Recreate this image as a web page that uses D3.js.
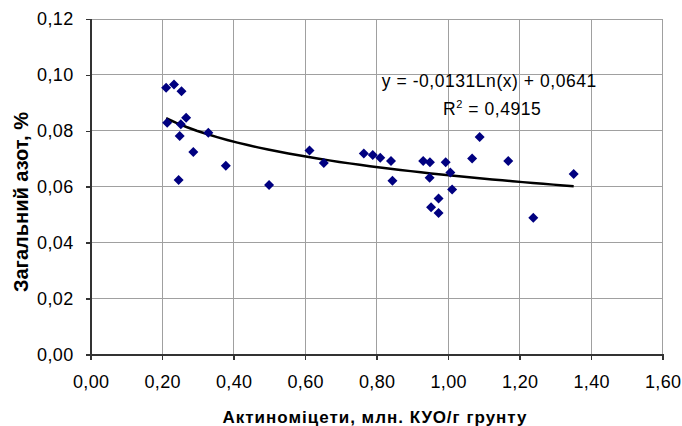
<!DOCTYPE html>
<meta charset="utf-8">
<title>Загальний азот vs Актиноміцети</title>
<style>
  body { margin: 0; background: #fff; }
  svg { font-family: "Liberation Sans", Arial, sans-serif; }
  .grid line { stroke: #a0a0a0; stroke-width: 1; shape-rendering: crispEdges; }
  .axis path, .axis line { stroke: #333; stroke-width: 1.5; shape-rendering: crispEdges; }
  .axis text { font-size: 18px; fill: #000; letter-spacing: 0.4px; }
  .xtitle { font-size: 17px; font-weight: bold; letter-spacing: 1px; }
  .ytitle { font-size: 20px; font-weight: bold; }
  .dot { fill: #000080; }
  .trend { fill: none; stroke: #000; stroke-width: 2.5; }
  .eq { font-size: 17.5px; letter-spacing: 0.55px; }
</style>
<body>
<script src="https://d3js.org/d3.v7.min.js"></script>
<script>
// Актиноміцети, млн. КУО/г грунту
var actino = [0.211, 0.233, 0.254, 0.214, 0.267, 0.252, 0.329, 0.249, 0.287, 0.378, 0.246,
              0.499, 0.612, 0.652, 0.764, 0.789, 0.810, 0.840, 0.844, 0.930, 0.949, 0.948,
              0.993, 1.006, 1.011, 0.973, 0.952, 0.973, 1.067, 1.088, 1.168, 1.238, 1.351];
// Загальний азот, %
var nitrogen = [0.0954, 0.0966, 0.0941, 0.0829, 0.0847, 0.0823, 0.0793, 0.0781, 0.0724, 0.0675, 0.0624,
                0.0606, 0.0729, 0.0685, 0.0719, 0.0713, 0.0703, 0.0692, 0.0621, 0.0692, 0.0687, 0.0632,
                0.0687, 0.0651, 0.0590, 0.0558, 0.0526, 0.0506, 0.0701, 0.0778, 0.0692, 0.0489, 0.0645];
var xTicks = [0, 0.2, 0.4, 0.6, 0.8, 1.0, 1.2, 1.4, 1.6];
var yTicks = [0, 0.02, 0.04, 0.06, 0.08, 0.10, 0.12];
var trendA = -0.0131, trendB = 0.0641, r2 = "0,4915";

var W = 682, H = 426;
var margin = {top: 19, right: 19.3, bottom: 71.7, left: 90.7},
    width = W - margin.left - margin.right,
    height = H - margin.top - margin.bottom;

var locale = d3.formatLocale({decimal: ",", thousands: " ", grouping: [3], currency: ["", ""]});
var fmt = locale.format(".2f");

var x = d3.scaleLinear().domain([0, 1.6]).range([0, width]);
var y = d3.scaleLinear().domain([0, 0.12]).range([height, 0]);

var svg = d3.select("body").append("svg")
    .attr("width", W).attr("height", H)
  .append("g")
    .attr("transform", "translate(" + margin.left + "," + margin.top + ")");

// gridlines
svg.append("g").attr("class", "grid")
  .selectAll("line").data(yTicks).join("line")
    .attr("x1", 0).attr("x2", width)
    .attr("y1", d => y(d)).attr("y2", d => y(d));
svg.append("g").attr("class", "grid")
  .selectAll("line").data(xTicks).join("line")
    .attr("y1", 0).attr("y2", height)
    .attr("x1", d => x(d)).attr("x2", d => x(d));

// axes
svg.append("g").attr("class", "axis")
    .attr("transform", "translate(0," + height + ")")
    .call(d3.axisBottom(x).tickValues(xTicks).tickFormat(fmt).tickSizeOuter(0).tickSize(6).tickPadding(15));
svg.append("g").attr("class", "axis")
    .call(d3.axisLeft(y).tickValues(yTicks).tickFormat(fmt).tickSizeOuter(0).tickSize(5).tickPadding(12));

// trendline from the equation shown on the chart
var pts = actino.map((d, i) => ({x: d, y: nitrogen[i]}));
var ext = d3.extent(actino);
var tx = d3.range(0, 41).map(i => ext[0] + (ext[1] - ext[0]) * i / 40);
svg.append("path").attr("class", "trend")
    .datum(tx)
    .attr("d", d3.line().x(d => x(d)).y(d => y(trendA * Math.log(d) + trendB)));

// points
svg.selectAll("path.dot").data(pts).join("path")
    .attr("class", "dot")
    .attr("transform", d => "translate(" + x(d.x) + "," + y(d.y) + ")")
    .attr("d", "M0,-5L5,0L0,5L-5,0Z");

// equation label
svg.append("text").attr("class", "eq").attr("text-anchor", "middle")
    .attr("x", x(1.115)).attr("y", y(0.0958))
    .text("y = -0,0131Ln(x) + 0,0641");
var r = svg.append("text").attr("class", "eq").attr("text-anchor", "middle")
    .attr("x", x(1.123)).attr("y", y(0.0857));
r.append("tspan").text("R");
r.append("tspan").attr("dy", -7).attr("font-size", "11px").text("2");
r.append("tspan").attr("dy", 7).text(" = " + r2);

// axis titles
svg.append("text").attr("class", "xtitle").attr("text-anchor", "middle")
    .attr("x", 375 - margin.left).attr("y", height + 69)
    .text("Актиноміцети, млн. КУО/г грунту");
svg.append("text").attr("class", "ytitle").attr("text-anchor", "middle")
    .attr("transform", "translate(" + (-63) + "," + (202 - margin.top) + ") rotate(-90)")
    .text("Загальний азот, %");
</script>
</body>
